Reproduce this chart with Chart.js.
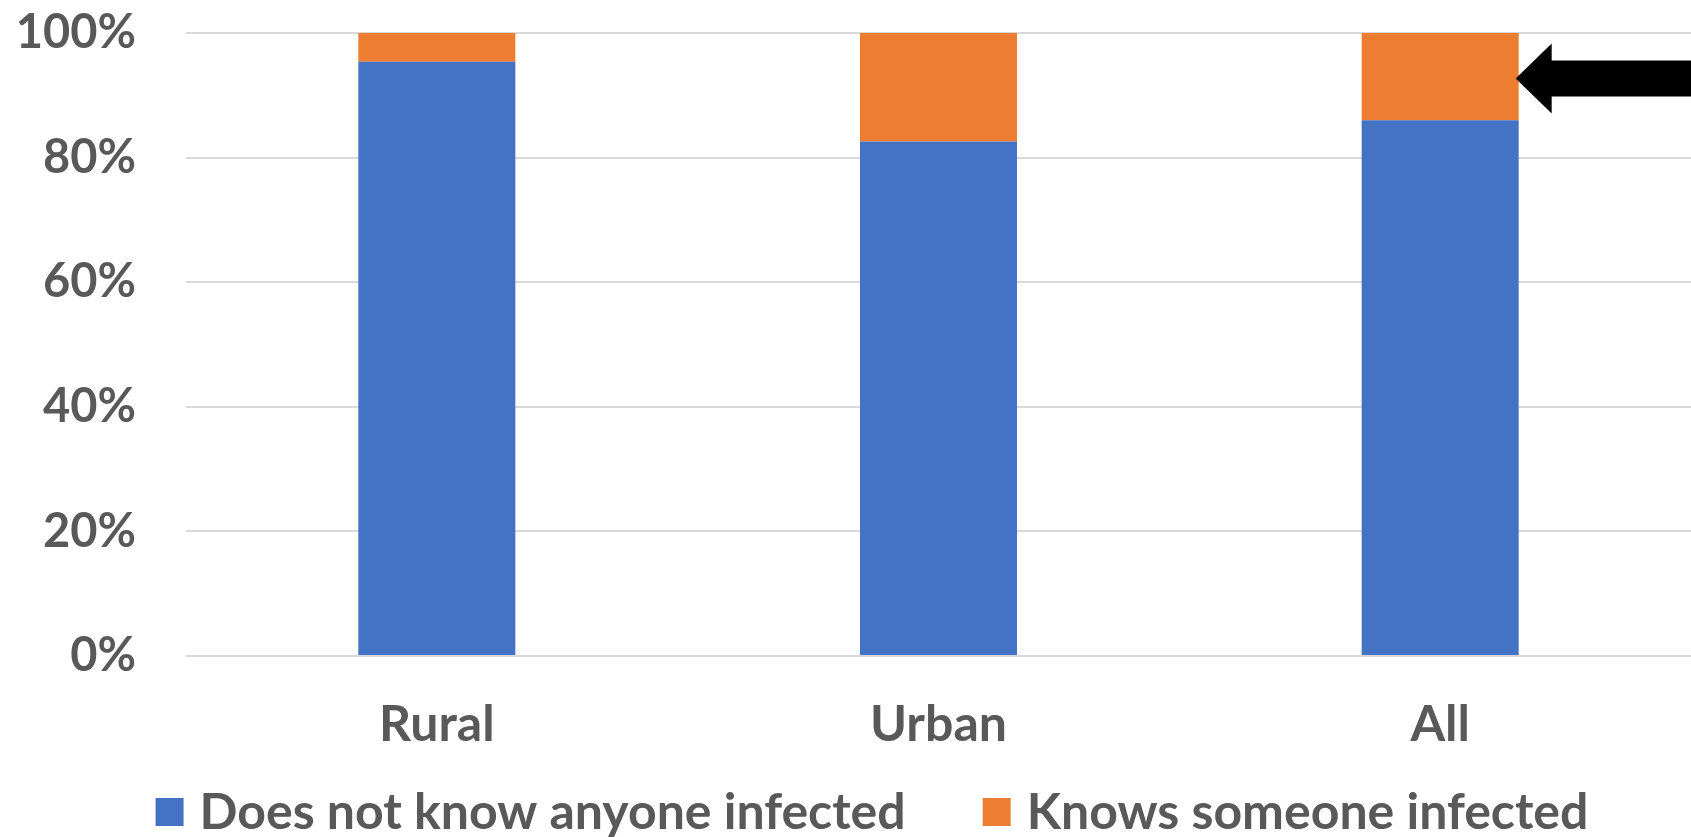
<!DOCTYPE html>
<html>
<head>
<meta charset="utf-8">
<script src="https://cdn.jsdelivr.net/npm/chart.js@4"></script>
<style>
  html, body { margin: 0; padding: 0; background: #ffffff; }
  #wrap { width: 1691px; height: 837px; position: relative; }
</style>
</head>
<body>
<div id="wrap"><canvas id="chart"></canvas></div>
<script>
// Share of respondents who know someone infected, by area
const categories = ['Rural', 'Urban', 'All'];
const doesNotKnow = [95.4, 82.6, 86.0];
const knowsSomeone = [4.6, 17.4, 14.0];
const seriesNames = ['Does not know anyone infected', 'Knows someone infected'];
const seriesColors = ['#4472C4', '#ED7D31'];
const yTicks = [0, 20, 40, 60, 80, 100];

const TEXT = '#595959';
const FONT = 'Lato, "Open Sans", sans-serif';

// Black arrow pointing at the "Knows someone infected" segment of the last bar
const arrowPlugin = {
  id: 'pointerArrow',
  afterDatasetsDraw(chart) {
    const meta = chart.getDatasetMeta(1);
    const bar = meta.data[categories.length - 1];
    if (!bar) return;
    const props = bar.getProps(['x', 'y', 'base', 'width'], true);
    const tipX = props.x + props.width / 2 - 3;
    const midY = (props.y + props.base) / 2 + 2;
    const headLen = 36, headHalf = 35, shaftHalf = 18;
    const endX = chart.width;
    const ctx = chart.ctx;
    ctx.save();
    ctx.fillStyle = '#000000';
    ctx.beginPath();
    ctx.moveTo(tipX, midY);
    ctx.lineTo(tipX + headLen, midY - headHalf);
    ctx.lineTo(tipX + headLen, midY - shaftHalf);
    ctx.lineTo(endX, midY - shaftHalf);
    ctx.lineTo(endX, midY + shaftHalf);
    ctx.lineTo(tipX + headLen, midY + shaftHalf);
    ctx.lineTo(tipX + headLen, midY + headHalf);
    ctx.closePath();
    ctx.fill();
    ctx.restore();
  }
};

// Legend row under the category labels: square swatch, short gap, series name
const legendRow = {
  id: 'legendRow',
  afterDraw(chart, args, opts) {
    const ctx = chart.ctx;
    const items = chart.data.datasets.map(ds => ({ text: ds.label, color: ds.backgroundColor }));
    ctx.save();
    ctx.font = `bold ${opts.fontSize}px ${FONT}`;
    ctx.textBaseline = 'middle';
    ctx.textAlign = 'left';
    const widths = items.map(it => opts.box + opts.boxGap + ctx.measureText(it.text).width);
    const total = widths.reduce((a, b) => a + b, 0) + opts.itemGap * (items.length - 1);
    let x = opts.centerX - total / 2;
    const y = opts.centerY;
    items.forEach((it, i) => {
      ctx.fillStyle = it.color;
      ctx.fillRect(x, y - opts.box / 2, opts.box, opts.box);
      ctx.fillStyle = TEXT;
      ctx.fillText(it.text, x + opts.box + opts.boxGap, y + 1);
      x += widths[i] + opts.itemGap;
    });
    ctx.restore();
  }
};

new Chart(document.getElementById('chart'), {
  type: 'bar',
  data: {
    labels: categories,
    datasets: [
      { label: seriesNames[0], data: doesNotKnow, backgroundColor: seriesColors[0], borderWidth: 0 },
      { label: seriesNames[1], data: knowsSomeone, backgroundColor: seriesColors[1], borderWidth: 0 }
    ]
  },
  options: {
    responsive: true,
    maintainAspectRatio: false,
    animation: false,
    datasets: { bar: { categoryPercentage: 1.0, barPercentage: 0.313 } },
    layout: { padding: { top: 33, right: -4, left: 0, bottom: 43 } },
    plugins: {
      tooltip: { enabled: false },
      legend: { display: false },
      legendRow: {
        fontSize: 50,
        box: 28,
        boxGap: 16,
        itemGap: 77,
        centerX: 872,
        centerY: 812
      }
    },
    scales: {
      x: {
        stacked: true,
        grid: { display: false, drawTicks: false },
        border: { display: false },
        ticks: {
          padding: 39,
          color: TEXT,
          font: { family: FONT, size: 50, weight: 'bold' }
        }
      },
      y: {
        stacked: true,
        min: 0,
        max: 100,
        afterBuildTicks(scale) { scale.ticks = yTicks.map(v => ({ value: v })); },
        grid: { color: '#d9d9d9', lineWidth: 2, drawTicks: false },
        border: { display: false },
        ticks: {
          padding: 50,
          color: TEXT,
          font: { family: FONT, size: 47, weight: 'bold' },
          callback: v => v + '%'
        },
        afterFit(scale) {
          scale.width = 186;
          scale.paddingTop = 0;
          scale.paddingBottom = 0;
        }
      }
    }
  },
  plugins: [arrowPlugin, legendRow]
});
</script>
</body>
</html>
